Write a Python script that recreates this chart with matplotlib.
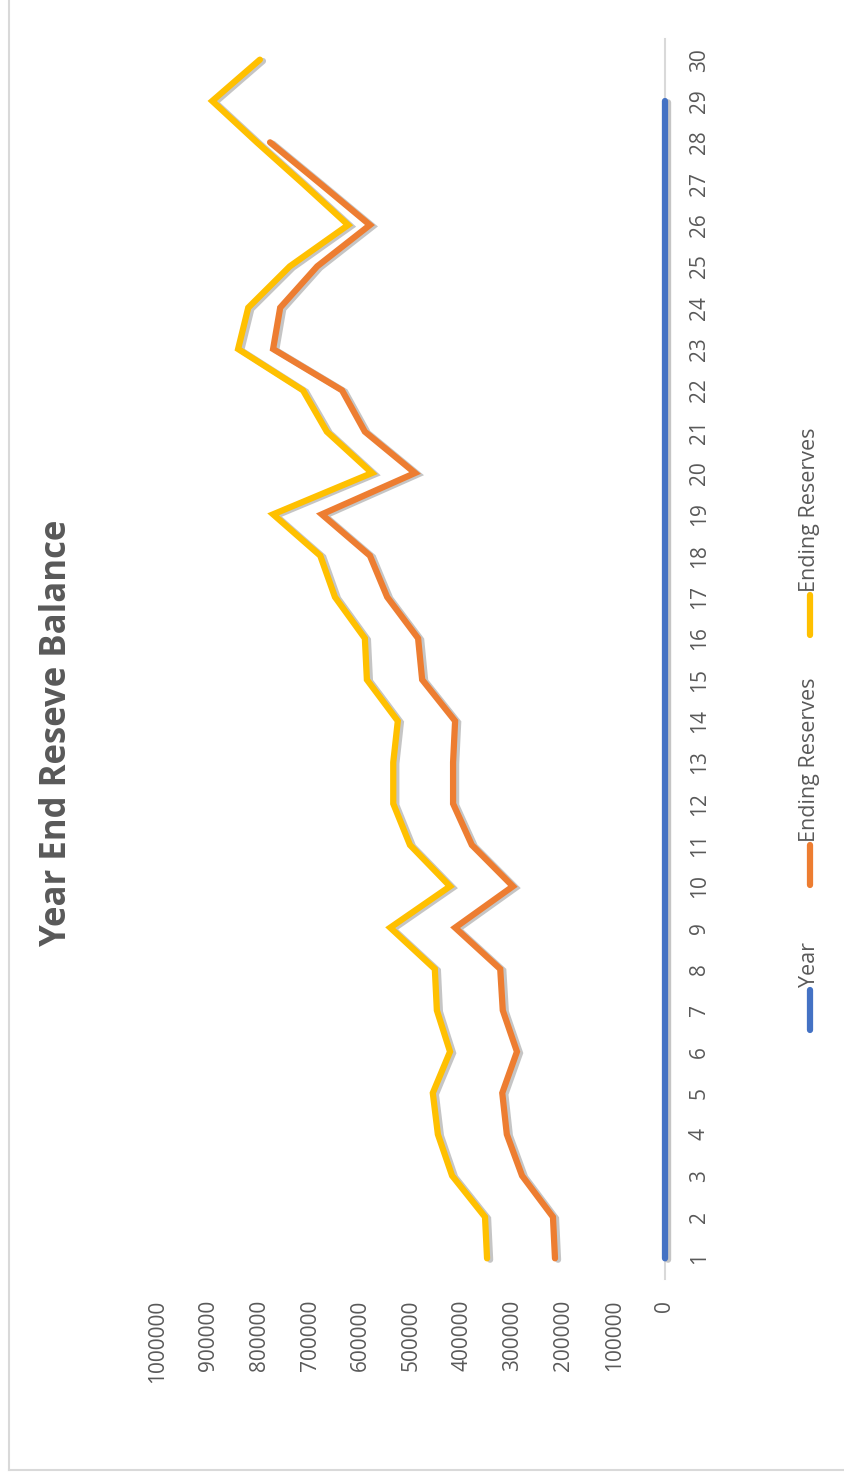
import matplotlib
matplotlib.use("Agg")
import matplotlib.pyplot as plt
import matplotlib.patheffects as pe
from matplotlib.lines import Line2D

plt.rcParams['font.family'] = ['Open Sans', 'DejaVu Sans']

# data
years = list(range(1, 31))
year_series = [1, 2, 3, 4, 5, 6, 7, 8, 9, 10, 11, 12, 13, 14, 15,
               16, 17, 18, 19, 20, 21, 22, 23, 24, 25, 26, 27, 28, 29]
reserves_a = [217000, 221000, 282000, 312000, 321000, 292000, 320000, 325000,
              414000, 300000, 381000, 418000, 418000, 414000, 479000, 487000,
              548000, 582000, 677000, 493000, 592000, 637000, 773000, 759000,
              686000, 582000, 680000, 779000]
reserves_b = [351000, 355000, 420000, 448000, 458000, 424000, 450000, 454000,
              542000, 424000, 503000, 536000, 536000, 527000, 588000, 592000,
              651000, 680000, 773000, 578000, 667000, 714000, 842000, 822000,
              740000, 625000, 714000, 805000, 893000, 799000]
value_ticks = [0, 100000, 200000, 300000, 400000, 500000, 600000, 700000,
               800000, 900000, 1000000]

series = [
    ("Year", year_series, "#4472C4"),
    ("Ending Reserves", reserves_a, "#ED7D31"),
    ("Ending Reserves", reserves_b, "#FFC000"),
]

W, H = 845, 1479
fig = plt.figure(figsize=(W / 100, H / 100), dpi=100)
fig.patch.set_facecolor("white")

ax = fig.add_axes([158 / W, 1 - 1279 / H, (665 - 158) / W, (1279 - 39) / H])
ax.set_facecolor("white")

shadow = [pe.SimpleLineShadow(offset=(2.2, -1.0), shadow_color="#7f7f7f", alpha=0.45),
          pe.Normal()]

for name, vals, col in series:
    ax.plot(vals, years[:len(vals)], color=col, lw=4.5, solid_capstyle="round",
            solid_joinstyle="miter", path_effects=shadow, zorder=3, clip_on=False)

ax.set_xlim(1000000, 0)
ax.set_ylim(0.5, 30.5)

for s in ["top", "bottom", "left"]:
    ax.spines[s].set_visible(False)
ax.spines["right"].set_color("#d9d9d9")
ax.spines["right"].set_linewidth(1.5)

ax.set_xticks(value_ticks)
ax.set_xticklabels([str(v) for v in value_ticks], rotation=90)
ax.tick_params(axis="x", length=0, pad=15, labelsize=15, labelcolor="#595959")

ax.yaxis.tick_right()
ax.set_yticks(years)
ax.set_yticklabels([str(y) for y in years], rotation=90, va="center")
ax.tick_params(axis="y", length=0, pad=17, labelsize=15, labelcolor="#595959")

fig.text(57 / W, 1 - 733 / H, "Year End Reseve Balance", rotation=90,
         ha="center", va="center", fontsize=25, fontweight="bold", color="#595959")

# legend drawn vertically beside the chart
legend_marks = [(1030, 990), (885, 845), (635, 595)]
for (name, vals, col), (y0, y1) in zip(series, legend_marks):
    fig.add_artist(Line2D([810 / W, 810 / W], [1 - y0 / H, 1 - y1 / H], color=col,
                          lw=4.5, solid_capstyle="round"))
    fig.text(810 / W, 1 - (y1 - 3) / H, name, rotation=90, ha="center", va="bottom",
             fontsize=15.5, color="#595959")

# chart frame
fig.add_artist(Line2D([9 / W, 9 / W], [1 - 1470 / H, 1], color="#d9d9d9", lw=1.5))
fig.add_artist(Line2D([9 / W, 1], [1 - 1470 / H, 1 - 1470 / H], color="#d9d9d9", lw=1.5))

fig.savefig("out.png", dpi=100, facecolor="white")
